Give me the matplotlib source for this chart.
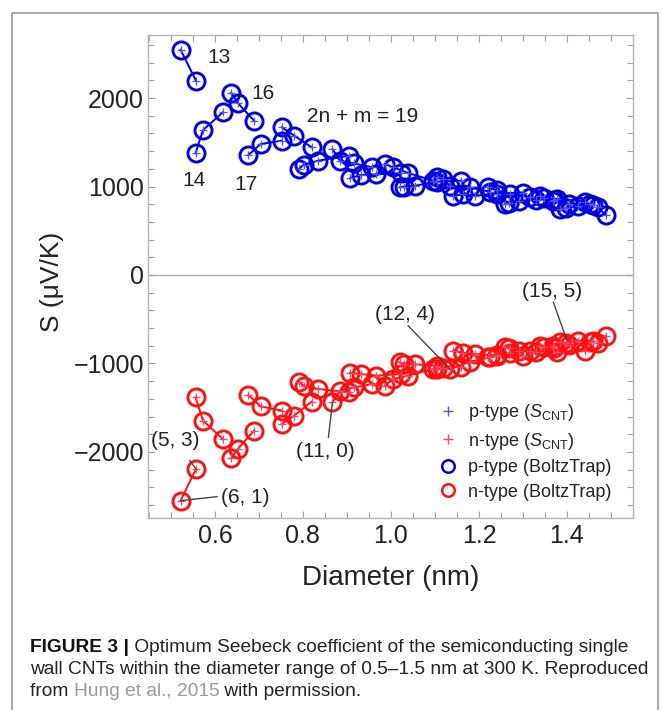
import matplotlib
matplotlib.use('Agg')
import matplotlib.pyplot as plt
from matplotlib.lines import Line2D
from matplotlib import font_manager as fm

# ---------------- data ----------------
families = ['13', '14', '16', '17', '19', '20', '22', '23', '25', '26',
            '28', '29', '31', '32', '34', '35', '37']

diam = {
    '13': [0.522, 0.557],
    '14': [0.556, 0.573, 0.618],
    '16': [0.637, 0.652, 0.689],
    '17': [0.676, 0.704, 0.752],
    '19': [0.752, 0.780, 0.820],
    '20': [0.791, 0.802, 0.835, 0.905],
    '22': [0.867, 0.884, 0.916, 0.958],
    '23': [0.907, 0.931, 0.967, 1.022],
    '25': [0.986, 1.005, 1.039, 1.096],
    '26': [1.020, 1.030, 1.055, 1.104, 1.160],
    '28': [1.104, 1.119, 1.134, 1.180, 1.225],
    '29': [1.142, 1.164, 1.191, 1.240, 1.300],
    '31': [1.221, 1.240, 1.270, 1.315, 1.370],
    '32': [1.259, 1.268, 1.290, 1.330, 1.378, 1.440],
    '34': [1.339, 1.348, 1.368, 1.405, 1.452],
    '35': [1.384, 1.398, 1.425, 1.458],
    '37': [1.470, 1.488],
}

s_p = {
    '13': [2546, 2196],
    '14': [1375, 1638, 1838],
    '16': [2057, 1944, 1744],
    '17': [1356, 1480, 1518],
    '19': [1669, 1575, 1443],
    '20': [1198, 1247, 1292, 1348],
    '22': [1424, 1292, 1260, 1217],
    '23': [1092, 1130, 1138, 1150],
    '25': [1254, 1217, 1153, 1066],
    '26': [991, 1000, 1009, 1054, 1066],
    '28': [1104, 1080, 1009, 991, 940],
    '29': [896, 910, 896, 920, 930],
    '31': [991, 960, 915, 880, 850],
    '32': [802, 815, 840, 850, 860, 830],
    '34': [896, 870, 840, 800, 802],
    '35': [746, 755, 776, 790],
    '37': [768, 678],
}

s_n = {
    '13': [-2550, -2192],
    '14': [-1382, -1646, -1853],
    '16': [-2072, -1966, -1759],
    '17': [-1356, -1484, -1533],
    '19': [-1684, -1590, -1431],
    '20': [-1213, -1251, -1288, -1326],
    '22': [-1439, -1307, -1270, -1232],
    '23': [-1107, -1119, -1138, -1119],
    '25': [-1251, -1175, -1138, -1062],
    '26': [-987, -1006, -1010, -1025, -1040],
    '28': [-1062, -1050, -1062, -980, -930],
    '29': [-855, -880, -893, -905, -910],
    '31': [-930, -915, -880, -860, -830],
    '32': [-817, -830, -855, -865, -870, -860],
    '34': [-799, -810, -800, -790, -760],
    '35': [-760, -765, -742, -750],
    '37': [-768, -690],
}

x_ticks = [0.6, 0.8, 1.0, 1.2, 1.4]
y_ticks = [-2000, -1000, 0, 1000, 2000]

legend_labels = [r'p-type ($S_{\mathrm{CNT}}$)', r'n-type ($S_{\mathrm{CNT}}$)',
                 'p-type (BoltzTrap)', 'n-type (BoltzTrap)']

# family labels (text, x, y)
family_notes = [('13', 0.582, 2458), ('16', 0.682, 2051), ('2n + m = 19', 0.809, 1791),
                ('14', 0.525, 1068), ('17', 0.645, 1017)]
# chirality labels (text, text x, text y, point x, point y, line start x, line start y)
chiral_notes = [
    ('(5, 3)', 0.511, -1870, 0.557, -2192, 0.543, -2098),
    ('(6, 1)', 0.668, -2514, 0.522, -2550, 0.605, -2505),
    ('(11, 0)', 0.850, -1994, 0.867, -1439, 0.858, -1834),
    ('(12, 4)', 1.032, -452, 1.134, -1062, 1.039, -573),
    ('(15, 5)', 1.366, -186, 1.400, -740, 1.369, -309),
]

caption_lines = [
    [('FIGURE 3 |', 'bold', '#111111'),
     (' Optimum Seebeck coefficient of the semiconducting single', 'normal', '#222222')],
    [('wall CNTs within the diameter range of 0.5\u20131.5 nm at 300 K. Reproduced', 'normal', '#222222')],
    [('from ', 'normal', '#222222'), ('Hung et al., 2015', 'normal', '#9a9a9a'),
     (' with permission.', 'normal', '#222222')],
]

# ---------------- style ----------------
avail = {f.name for f in fm.fontManager.ttflist}
main_font = 'Liberation Sans' if 'Liberation Sans' in avail else 'DejaVu Sans'
cap_font = 'Liberation Sans Narrow' if 'Liberation Sans Narrow' in avail else main_font
plt.rcParams['font.family'] = [main_font, 'DejaVu Sans']
plt.rcParams['mathtext.fontset'] = 'custom'
plt.rcParams['mathtext.rm'] = main_font
plt.rcParams['mathtext.it'] = main_font + ':italic'

BLUE = '#0000e0'
RED = '#ff1010'
BLUE_P = '#5050ff'
RED_P = '#ff4060'
TXT = '#222222'

W, H = 663, 710
fig = plt.figure(figsize=(W / 100, H / 100), dpi=100)
fig.patch.set_facecolor('white')

# outer frame
frame = Line2D([12 / W, 12 / W, 658 / W, 658 / W], [0, 1 - 13 / H, 1 - 13 / H, 0],
               transform=fig.transFigure, color='#9a9a9a', lw=1.2)
fig.add_artist(frame)

ax = fig.add_axes([148 / W, 1 - 518 / H, (633 - 148) / W, (518 - 35) / H])
ax.set_xlim(0.448, 1.55)
ax.set_ylim(-2746, 2712)

ax.axhline(0, color='#b0b0b0', lw=1.0, zorder=1)

for f in families:
    ax.plot(diam[f], s_p[f], '-', color=BLUE, lw=1.4, zorder=2)
    ax.plot(diam[f], s_n[f], '-', color=RED, lw=1.4, zorder=2)
for f in families:
    ax.plot(diam[f], s_p[f], 'o', ms=12.3, mfc='none', mec=BLUE, mew=2.1, ls='none', zorder=3)
    ax.plot(diam[f], s_n[f], 'o', ms=12.3, mfc='none', mec=RED, mew=2.1, ls='none', zorder=3)
    ax.plot(diam[f], s_p[f], '+', ms=5.5, mec=BLUE_P, mew=0.9, ls='none', zorder=4)
    ax.plot(diam[f], s_n[f], '+', ms=5.5, mec=RED_P, mew=0.9, ls='none', zorder=4)

for t, x, y in family_notes:
    ax.text(x, y, t, fontsize=15, color=TXT, ha='left', va='center', zorder=5)

for t, tx, ty, px, py, lx, ly in chiral_notes:
    ax.text(tx, ty, t, fontsize=15, color=TXT, ha='center', va='center', zorder=5)
    ax.plot([lx, px], [ly, py], '-', color='#444444', lw=1.0, zorder=5)

ax.set_xticks(x_ticks)
ax.set_xticklabels(['%.1f' % v for v in x_ticks])
ax.set_yticks(y_ticks)
ax.set_yticklabels(['%d' % v if v >= 0 else '\u2212%d' % -v for v in y_ticks])
ax.set_xticks([v / 100 for v in range(45, 156, 5)], minor=True)
ax.set_yticks(list(range(-2600, 2701, 200)), minor=True)
ax.tick_params(which='both', direction='in', top=True, right=True,
               color='#a0a0a0', width=0.8)
ax.tick_params(which='major', length=5, labelsize=18, labelcolor=TXT)
ax.tick_params(which='minor', length=4)
ax.tick_params(axis='x', which='major', pad=4)
ax.tick_params(axis='y', which='major', pad=3)
for sp in ax.spines.values():
    sp.set_color('#b5b5b5')
    sp.set_linewidth(1.0)

ax.set_xlabel('Diameter (nm)', fontsize=20, color=TXT, va='center')
ax.xaxis.set_label_coords(0.5, (518 - 578) / 483)
ax.set_ylabel('S (\u03bcV/K)', fontsize=19, color=TXT, va='center')
ax.yaxis.set_label_coords((52 - 148) / 485, (518 - 282) / 483)

handles = [
    Line2D([], [], marker='+', ls='none', ms=7, mew=1.0, color=BLUE_P),
    Line2D([], [], marker='+', ls='none', ms=7, mew=1.0, color=RED_P),
    Line2D([], [], marker='o', ls='none', ms=9, mew=1.8, mfc='none', mec=BLUE),
    Line2D([], [], marker='o', ls='none', ms=9, mew=1.8, mfc='none', mec=RED),
]
leg = ax.legend(handles, legend_labels, loc='upper left', frameon=False, fontsize=13,
                bbox_to_anchor=(430 / W, 1 - 393 / H), bbox_transform=fig.transFigure,
                handlelength=1.0, handletextpad=0.6, labelspacing=0.42, borderpad=0)
for t in leg.get_texts():
    t.set_color(TXT)

# ---------------- caption ----------------
fig.canvas.draw()
renderer = fig.canvas.get_renderer()
# fit caption font size so that the widest line spans ~620 px
probe = fig.text(0, 0, caption_lines[1][0][0], fontsize=10, family=[cap_font, 'DejaVu Sans'])
wpx = probe.get_window_extent(renderer).width
probe.remove()
cap_size = 10 * 620 / wpx
cap_y = [648, 670, 692]
for line, yy in zip(caption_lines, cap_y):
    x = 30
    for txt, weight, col in line:
        t = fig.text(x / W, 1 - yy / H, txt, fontsize=cap_size, fontweight=weight, color=col,
                     family=[cap_font, 'DejaVu Sans'], ha='left', va='center')
        x += t.get_window_extent(renderer).width

fig.savefig('out.png', dpi=100, facecolor='white')
